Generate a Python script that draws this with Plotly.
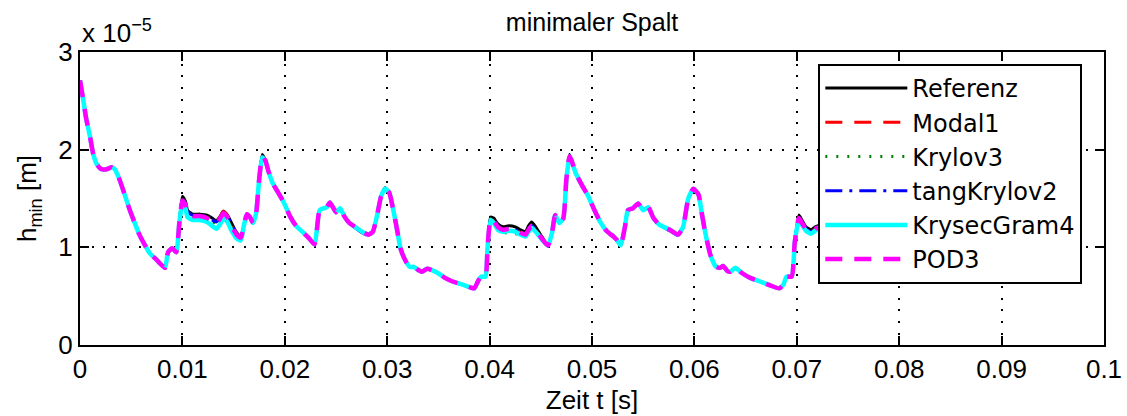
import plotly.graph_objects as go

# Zeitachse [s]
t = [0.0000, 0.0003, 0.0006, 0.0010, 0.0013, 0.0017, 0.0021, 0.0026, 0.0031, 0.0034,
     0.0038, 0.0043, 0.0048, 0.0053, 0.0058, 0.0063, 0.0068, 0.0075, 0.0083, 0.0086,
     0.0090, 0.0094, 0.0097, 0.0100, 0.0103, 0.0105, 0.0110, 0.0117, 0.0124, 0.0129,
     0.0133, 0.0137, 0.0140, 0.0144, 0.0148, 0.0153, 0.0157, 0.0160, 0.0163, 0.0166,
     0.0169, 0.0172, 0.0175, 0.0178, 0.0181, 0.0184, 0.0188, 0.0193, 0.0199, 0.0205,
     0.0211, 0.0217, 0.0223, 0.0229, 0.0231, 0.0234, 0.0238, 0.0241, 0.0244, 0.0247,
     0.0250, 0.0254, 0.0258, 0.0263, 0.0270, 0.0277, 0.0282, 0.0286, 0.0290, 0.0294,
     0.0298, 0.0302, 0.0306, 0.0310, 0.0313, 0.0318, 0.0322, 0.0326, 0.0330, 0.0334,
     0.0339, 0.0343, 0.0349, 0.0356, 0.0364, 0.0373, 0.0381, 0.0385, 0.0389, 0.0392,
     0.0396, 0.0398, 0.0401, 0.0404, 0.0408, 0.0413, 0.0419, 0.0425, 0.0430, 0.0435,
     0.0438, 0.0441, 0.0445, 0.0451, 0.0457, 0.0461, 0.0464, 0.0468, 0.0472, 0.0475,
     0.0478, 0.0480, 0.0484, 0.0490, 0.0496, 0.0502, 0.0508, 0.0514, 0.0521, 0.0524,
     0.0528, 0.0532, 0.0535, 0.0540, 0.0545, 0.0550, 0.0555, 0.0560, 0.0566, 0.0576,
     0.0584, 0.0589, 0.0594, 0.0599, 0.0604, 0.0607, 0.0611, 0.0616, 0.0621, 0.0625,
     0.0628, 0.0632, 0.0635, 0.0640, 0.0646, 0.0654, 0.0664, 0.0674, 0.0683, 0.0687,
     0.0690, 0.0695, 0.0698, 0.0702, 0.0705, 0.0709, 0.0714, 0.0718, 0.0723, 0.0729]

# minimaler Spalt h_min in Einheiten von 1e-5 m
h_referenz = [2.71, 2.52, 2.32, 2.12, 1.95, 1.84, 1.80, 1.80, 1.82, 1.80,
              1.71, 1.56, 1.40, 1.26, 1.13, 1.03, 0.94, 0.87, 0.79, 0.95,
              0.99, 0.95, 1.25, 1.52, 1.47, 1.38, 1.34, 1.34, 1.33, 1.30,
              1.27, 1.32, 1.37, 1.33, 1.25, 1.15, 1.11, 1.22, 1.34, 1.31,
              1.25, 1.35, 1.70, 1.95, 1.89, 1.78, 1.66, 1.57, 1.46, 1.32,
              1.22, 1.16, 1.10, 1.03, 1.15, 1.38, 1.40, 1.41, 1.46, 1.41,
              1.36, 1.40, 1.32, 1.25, 1.20, 1.15, 1.13, 1.16, 1.32, 1.52,
              1.61, 1.56, 1.38, 1.16, 0.99, 0.86, 0.80, 0.80, 0.77, 0.75,
              0.78, 0.77, 0.74, 0.69, 0.65, 0.62, 0.59, 0.58, 0.66, 0.70,
              0.70, 1.00, 1.31, 1.30, 1.24, 1.21, 1.22, 1.21, 1.18, 1.16,
              1.22, 1.26, 1.21, 1.11, 1.02, 1.15, 1.33, 1.25, 1.30, 1.70,
              1.95, 1.89, 1.76, 1.64, 1.53, 1.39, 1.26, 1.17, 1.12, 1.08,
              1.02, 1.20, 1.38, 1.40, 1.45, 1.38, 1.41, 1.30, 1.23, 1.18,
              1.13, 1.21, 1.50, 1.60, 1.54, 1.36, 1.13, 0.91, 0.80, 0.79,
              0.81, 0.76, 0.75, 0.79, 0.74, 0.69, 0.65, 0.61, 0.58, 0.62,
              0.70, 0.70, 1.05, 1.33, 1.28, 1.21, 1.18, 1.21, 1.23, 1.22]

h_modal1 = [2.71, 2.52, 2.32, 2.12, 1.95, 1.84, 1.80, 1.80, 1.82, 1.80,
            1.71, 1.56, 1.40, 1.26, 1.13, 1.03, 0.94, 0.87, 0.79, 0.95,
            0.99, 0.95, 1.25, 1.48, 1.44, 1.35, 1.32, 1.32, 1.30, 1.27,
            1.24, 1.32, 1.37, 1.33, 1.22, 1.13, 1.10, 1.22, 1.34, 1.31,
            1.25, 1.35, 1.70, 1.93, 1.89, 1.78, 1.66, 1.57, 1.46, 1.32,
            1.22, 1.16, 1.10, 1.03, 1.15, 1.38, 1.40, 1.41, 1.46, 1.41,
            1.36, 1.40, 1.32, 1.25, 1.20, 1.15, 1.13, 1.16, 1.32, 1.52,
            1.60, 1.56, 1.38, 1.16, 0.99, 0.86, 0.80, 0.80, 0.77, 0.75,
            0.78, 0.77, 0.74, 0.69, 0.65, 0.62, 0.59, 0.58, 0.66, 0.70,
            0.70, 1.00, 1.29, 1.27, 1.21, 1.18, 1.19, 1.18, 1.15, 1.13,
            1.18, 1.22, 1.18, 1.09, 1.02, 1.15, 1.33, 1.25, 1.30, 1.70,
            1.93, 1.89, 1.76, 1.64, 1.53, 1.39, 1.26, 1.17, 1.11, 1.08,
            1.02, 1.20, 1.38, 1.40, 1.45, 1.38, 1.41, 1.30, 1.23, 1.18,
            1.13, 1.21, 1.50, 1.60, 1.54, 1.36, 1.13, 0.91, 0.80, 0.79,
            0.81, 0.76, 0.75, 0.79, 0.74, 0.69, 0.65, 0.61, 0.58, 0.62,
            0.70, 0.70, 1.05, 1.30, 1.25, 1.19, 1.16, 1.19, 1.21, 1.20]

h_krylov3 = [2.71, 2.52, 2.32, 2.12, 1.95, 1.84, 1.80, 1.80, 1.82, 1.80,
             1.71, 1.56, 1.40, 1.26, 1.13, 1.03, 0.94, 0.87, 0.79, 0.95,
             0.99, 0.95, 1.25, 1.48, 1.44, 1.35, 1.32, 1.32, 1.30, 1.27,
             1.24, 1.30, 1.35, 1.31, 1.22, 1.13, 1.10, 1.22, 1.34, 1.31,
             1.25, 1.35, 1.70, 1.93, 1.89, 1.78, 1.66, 1.57, 1.46, 1.32,
             1.22, 1.16, 1.10, 1.03, 1.15, 1.38, 1.40, 1.41, 1.46, 1.41,
             1.36, 1.40, 1.32, 1.25, 1.20, 1.15, 1.13, 1.16, 1.32, 1.52,
             1.60, 1.56, 1.38, 1.16, 0.99, 0.86, 0.80, 0.80, 0.77, 0.75,
             0.78, 0.77, 0.74, 0.69, 0.65, 0.62, 0.59, 0.58, 0.66, 0.70,
             0.70, 1.00, 1.29, 1.26, 1.19, 1.15, 1.15, 1.14, 1.13, 1.12,
             1.18, 1.22, 1.18, 1.09, 1.02, 1.15, 1.33, 1.25, 1.30, 1.70,
             1.93, 1.89, 1.76, 1.64, 1.53, 1.39, 1.26, 1.17, 1.11, 1.08,
             1.02, 1.20, 1.38, 1.40, 1.45, 1.38, 1.41, 1.30, 1.23, 1.18,
             1.13, 1.21, 1.50, 1.60, 1.54, 1.36, 1.13, 0.91, 0.80, 0.79,
             0.81, 0.76, 0.75, 0.79, 0.74, 0.69, 0.65, 0.61, 0.58, 0.62,
             0.70, 0.70, 1.05, 1.30, 1.24, 1.17, 1.15, 1.18, 1.20, 1.19]

h_tangkrylov2 = [2.71, 2.52, 2.32, 2.12, 1.95, 1.84, 1.80, 1.80, 1.82, 1.80,
                 1.71, 1.56, 1.40, 1.26, 1.13, 1.03, 0.94, 0.87, 0.79, 0.95,
                 0.99, 0.95, 1.25, 1.49, 1.45, 1.36, 1.33, 1.33, 1.31, 1.28,
                 1.26, 1.30, 1.35, 1.31, 1.24, 1.14, 1.10, 1.22, 1.34, 1.31,
                 1.25, 1.35, 1.70, 1.93, 1.89, 1.78, 1.66, 1.57, 1.46, 1.32,
                 1.22, 1.16, 1.10, 1.03, 1.15, 1.38, 1.40, 1.41, 1.46, 1.41,
                 1.36, 1.40, 1.32, 1.25, 1.19, 1.14, 1.12, 1.15, 1.32, 1.52,
                 1.60, 1.56, 1.38, 1.16, 0.99, 0.86, 0.80, 0.80, 0.77, 0.75,
                 0.78, 0.77, 0.74, 0.69, 0.65, 0.62, 0.59, 0.58, 0.66, 0.70,
                 0.70, 1.00, 1.29, 1.27, 1.21, 1.18, 1.19, 1.18, 1.15, 1.13,
                 1.18, 1.22, 1.18, 1.08, 1.01, 1.15, 1.33, 1.25, 1.30, 1.70,
                 1.93, 1.89, 1.76, 1.64, 1.53, 1.39, 1.26, 1.17, 1.11, 1.08,
                 1.02, 1.20, 1.38, 1.40, 1.45, 1.38, 1.41, 1.30, 1.23, 1.17,
                 1.12, 1.21, 1.50, 1.60, 1.54, 1.36, 1.13, 0.91, 0.80, 0.79,
                 0.81, 0.76, 0.75, 0.79, 0.74, 0.69, 0.65, 0.61, 0.58, 0.62,
                 0.70, 0.70, 1.05, 1.30, 1.25, 1.19, 1.16, 1.19, 1.21, 1.20]

h_krysecgram4 = [2.71, 2.52, 2.32, 2.12, 1.95, 1.84, 1.80, 1.80, 1.82, 1.80,
                 1.71, 1.56, 1.40, 1.26, 1.13, 1.03, 0.94, 0.87, 0.79, 0.95,
                 0.99, 0.95, 1.25, 1.45, 1.40, 1.31, 1.28, 1.28, 1.26, 1.22,
                 1.19, 1.24, 1.30, 1.26, 1.17, 1.09, 1.07, 1.22, 1.34, 1.31,
                 1.25, 1.35, 1.70, 1.92, 1.89, 1.78, 1.66, 1.57, 1.46, 1.32,
                 1.22, 1.16, 1.10, 1.03, 1.15, 1.38, 1.40, 1.41, 1.46, 1.41,
                 1.36, 1.40, 1.32, 1.25, 1.20, 1.15, 1.13, 1.16, 1.32, 1.52,
                 1.60, 1.56, 1.38, 1.16, 0.99, 0.86, 0.80, 0.80, 0.77, 0.75,
                 0.78, 0.77, 0.74, 0.69, 0.65, 0.62, 0.59, 0.58, 0.66, 0.70,
                 0.70, 1.00, 1.28, 1.25, 1.18, 1.16, 1.17, 1.16, 1.13, 1.11,
                 1.16, 1.20, 1.16, 1.08, 1.02, 1.15, 1.33, 1.25, 1.30, 1.70,
                 1.93, 1.89, 1.76, 1.64, 1.53, 1.39, 1.26, 1.17, 1.11, 1.08,
                 1.02, 1.20, 1.38, 1.40, 1.45, 1.38, 1.41, 1.30, 1.23, 1.18,
                 1.13, 1.21, 1.50, 1.60, 1.54, 1.36, 1.13, 0.91, 0.80, 0.79,
                 0.81, 0.76, 0.75, 0.79, 0.74, 0.69, 0.65, 0.61, 0.58, 0.62,
                 0.70, 0.70, 1.05, 1.29, 1.23, 1.17, 1.14, 1.17, 1.19, 1.18]

h_pod3 = [2.71, 2.52, 2.32, 2.12, 1.95, 1.84, 1.80, 1.80, 1.82, 1.80,
          1.71, 1.56, 1.40, 1.26, 1.13, 1.03, 0.94, 0.87, 0.79, 0.95,
          0.99, 0.95, 1.25, 1.48, 1.44, 1.35, 1.32, 1.32, 1.30, 1.27,
          1.24, 1.30, 1.35, 1.31, 1.22, 1.13, 1.10, 1.22, 1.34, 1.31,
          1.25, 1.35, 1.70, 1.93, 1.89, 1.78, 1.66, 1.57, 1.46, 1.32,
          1.22, 1.16, 1.10, 1.03, 1.15, 1.38, 1.40, 1.41, 1.46, 1.41,
          1.36, 1.40, 1.32, 1.25, 1.20, 1.15, 1.13, 1.16, 1.32, 1.52,
          1.60, 1.56, 1.38, 1.16, 0.99, 0.86, 0.80, 0.80, 0.77, 0.75,
          0.78, 0.77, 0.74, 0.69, 0.65, 0.62, 0.59, 0.58, 0.66, 0.70,
          0.70, 1.00, 1.29, 1.27, 1.21, 1.18, 1.19, 1.18, 1.15, 1.13,
          1.18, 1.22, 1.18, 1.09, 1.02, 1.15, 1.33, 1.25, 1.30, 1.70,
          1.93, 1.89, 1.76, 1.64, 1.53, 1.39, 1.26, 1.17, 1.11, 1.08,
          1.02, 1.20, 1.38, 1.40, 1.45, 1.38, 1.41, 1.30, 1.23, 1.18,
          1.13, 1.21, 1.50, 1.60, 1.54, 1.36, 1.13, 0.91, 0.80, 0.79,
          0.81, 0.76, 0.75, 0.79, 0.74, 0.69, 0.65, 0.61, 0.58, 0.62,
          0.70, 0.70, 1.05, 1.30, 1.25, 1.19, 1.16, 1.19, 1.21, 1.20]

series_names = ["Referenz", "Modal1", "Krylov3", "tangKrylov2", "KrysecGram4", "POD3"]
series_values = [h_referenz, h_modal1, h_krylov3, h_tangkrylov2, h_krysecgram4, h_pod3]

x_tickvals = [0, 0.01, 0.02, 0.03, 0.04, 0.05, 0.06, 0.07, 0.08, 0.09, 0.1]
x_ticktext = ["0", "0.01", "0.02", "0.03", "0.04", "0.05", "0.06", "0.07", "0.08", "0.09", "0.1"]
y_tickvals = [0, 1, 2, 3]
y_ticktext = ["0", "1", "2", "3"]

# Linienstile im MATLAB-Look
line_styles = {
    "Referenz":    dict(color="#000000", width=3, dash="solid"),
    "Modal1":      dict(color="#ff0000", width=3, dash="17px,12px"),
    "Krylov3":     dict(color="#008000", width=3, dash="2px,9px"),
    "tangKrylov2": dict(color="#0000ff", width=3, dash="17px,7px,3px,7px"),
    "KrysecGram4": dict(color="#00ffff", width=4.5, dash="solid"),
    "POD3":        dict(color="#ff00ff", width=4.5, dash="17px,12px"),
}

FONT = "Liberation Sans, Arial, sans-serif"
LEG_FONT = "DejaVu Sans"
FS = 26

fig = go.Figure()
for name, vals in zip(series_names, series_values):
    fig.add_trace(go.Scatter(
        x=t, y=vals, name=name, mode="lines",
        line=dict(shape="spline", smoothing=0.5, **line_styles[name]),
    ))

axis_common = dict(
    showline=True, linecolor="black", linewidth=2, mirror="ticks",
    ticks="inside", ticklen=9, tickwidth=1.5, tickcolor="black",
    showgrid=True, gridcolor="black", gridwidth=1.5, griddash="2px,9.7px",
    zeroline=False, automargin=False,
    tickfont=dict(family=FONT, size=FS, color="black"),
)

fig.update_xaxes(
    range=[0, 0.1], tickvals=x_tickvals, ticktext=x_ticktext,
    title=dict(text="Zeit t [s]", font=dict(family=FONT, size=FS, color="black"), standoff=8),
    **axis_common,
)
fig.update_yaxes(
    range=[0, 3], tickvals=y_tickvals, ticktext=y_ticktext,
    title=dict(text="h<sub>min</sub> [m]", font=dict(family=FONT, size=FS, color="black"), standoff=14),
    **axis_common,
)

fig.update_layout(
    width=1127, height=416,
    margin=dict(l=80, r=23, t=52, b=71),
    paper_bgcolor="white", plot_bgcolor="white",
    font=dict(family=FONT, color="black"),
    title=dict(text="minimaler Spalt", x=0.5, xref="paper", xanchor="center",
               y=1 - 22 / 416, yref="container", yanchor="middle",
               font=dict(family=FONT, size=25, color="black")),
    legend=dict(
        x=0.721, y=0.959, xanchor="left", yanchor="top",
        bgcolor="white", bordercolor="black", borderwidth=2,
        font=dict(family=LEG_FONT, size=24, color="black"),
        itemwidth=82, tracegroupgap=0,
    ),
    showlegend=True,
    annotations=[dict(
        text="x 10<sup>\u22125</sup>", xref="paper", yref="paper",
        x=0, y=1, xanchor="left", yanchor="bottom", yshift=2,
        showarrow=False, font=dict(family=FONT, size=FS, color="black"),
    )],
)

fig.write_html("out.html")
